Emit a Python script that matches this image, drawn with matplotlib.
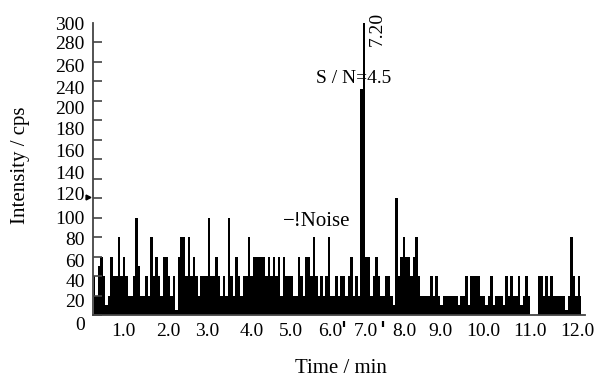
import numpy as np
import matplotlib
matplotlib.use('Agg')
import matplotlib.pyplot as plt

# noise trace, one value per ~0.06 min column (cps)
counts = [40,20,50,60,40,10,20,60,40,40,
          80,40,60,40,20,20,40,100,50,20,
          20,40,20,80,40,60,40,20,60,60,
          40,20,40,5,60,80,80,40,80,40,
          60,40,20,40,40,40,100,40,40,60,
          40,20,40,20,100,40,20,60,40,20,
          40,40,80,40,60,60,60,60,60,40,
          60,40,60,40,60,20,60,40,40,40,
          20,20,60,40,20,60,60,40,80,40,
          20,40,20,40,80,20,20,40,20,40,
          40,20,40,60,20,40,20,232,300,60,
          60,20,40,60,40,20,20,40,40,20,
          10,120,40,60,80,60,60,40,60,80,
          40,20,20,20,20,40,20,40,20,10,
          20,20,20,20,20,20,10,20,20,40,
          10,40,40,40,40,20,20,10,20,40,
          10,20,20,20,10,40,20,40,20,20,
          40,10,20,40,20,0,0,0,40,40,
          20,40,20,40,20,20,20,20,20,5,
          20,80,40,20,40,20]
t_start = 0.199
t_step = 0.0622

# tick labels, placed where they sit in the original figure
x_labels = ['1.0','2.0','3.0','4.0','5.0','6.0','7.0','8.0','9.0','10.0','11.0','12.0']
x_label_pos = [0.93,2.04,3.02,4.12,5.10,6.07,6.97,7.91,8.81,9.88,11.05,12.22]
y_labels = ['0','20','40','60','80','100','120','140','160','180','200','240','260','280','300']
y_label_pos = [-8.2,15.4,36.0,56.5,79.1,100.7,125.3,146.9,169.5,192.1,213.7,234.2,256.8,279.5,300]
y_tick_marks = np.arange(0, 301, 20)

plt.rcParams['font.family'] = ['Liberation Serif', 'DejaVu Serif']

time = t_start + t_step*np.arange(len(counts))

fig = plt.figure(figsize=(5.96,3.76), dpi=100)
ax = fig.add_axes([0.156, 0.1388, 0.8255, 0.800])

# dense trace drawn as a solid step fill
ax.fill_between(time, 0, counts, step='mid', color='k', linewidth=0)

ax.set_xlim(0.174, 12.416)
ax.set_ylim(-9, 300)

# axes: only left and bottom, bottom line at zero
for side in ['top','right']:
    ax.spines[side].set_visible(False)
ax.spines['bottom'].set_position(('data', 0))
ax.spines['left'].set_bounds(0, 300)
for side in ['left','bottom']:
    ax.spines[side].set_color('#444444')
    ax.spines[side].set_linewidth(1.3)

ax.set_xticks(x_label_pos)
ax.set_xticklabels(x_labels)
ax.tick_params(axis='x', length=0, pad=6, labelsize=14)

ax.set_yticks(y_label_pos)
ax.set_yticklabels(y_labels)
ax.set_yticks(y_tick_marks, minor=True)
ax.tick_params(axis='y', which='major', length=0, pad=6, labelsize=14)
ax.tick_params(axis='y', which='minor', direction='in', length=6.5, width=1.2, color='#444444')

ax.set_xlabel('Time / min', fontsize=15, va='center')
ax.xaxis.set_label_coords(0.504, -0.147)
ax.set_ylabel('Intensity / cps', fontsize=15, va='center')
ax.yaxis.set_label_coords(-0.148, 0.528)

# annotations
ax.text(6.67, 243, 'S / N=4.5', fontsize=14, ha='center', va='center')
ax.text(7.24, 294, '7.20', fontsize=14, ha='center', va='center', rotation=90)
ax.text(5.75, 96, '\u2212!Noise', fontsize=15, ha='center', va='center')
ax.plot([0.06], [121], marker='>', color='k', markersize=3.5, clip_on=False)
ax.plot([6.43, 7.39], [-9.5, -9.5], linestyle='none', marker='|', color='k',
        markersize=5, markeredgewidth=1.6, clip_on=False)

plt.savefig('out.png', dpi=100)
